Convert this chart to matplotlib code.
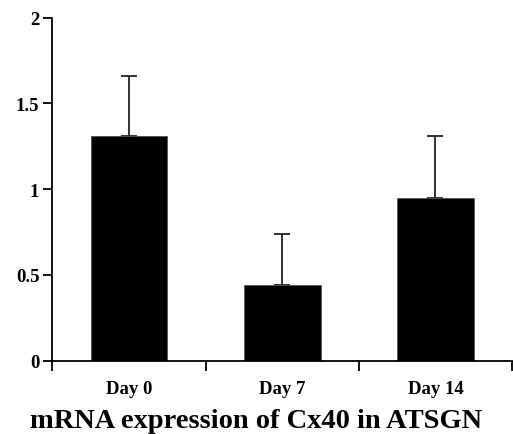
import matplotlib
matplotlib.use('Agg')
import matplotlib.pyplot as plt
import numpy as np

plt.rcParams['font.family'] = 'Liberation Serif'
plt.rcParams['font.weight'] = 'bold'

days = ['Day 0', 'Day 7', 'Day 14']
expression = [1.31, 0.44, 0.95]
sem = [0.35, 0.30, 0.36]
yticks = [0, 0.5, 1, 1.5, 2]
yticklabels = ['0', '0.5', '1', '1.5', '2']

fig = plt.figure(figsize=(5.13, 4.35), dpi=100)
ax = fig.add_axes([0.1023, 0.1685, 0.8957, 0.7885])

x = np.arange(len(days))
ax.bar(x, expression, width=0.5, color='black', edgecolor='#555555', linewidth=0.6,
       zorder=2)
ax.errorbar(x, expression, yerr=[np.zeros(len(sem)), sem], fmt='none',
            ecolor='#222222', elinewidth=1.3, capsize=6, capthick=1.3, zorder=1)

ax.set_xlim(-0.5, len(days) - 0.5)
ax.set_ylim(0, 2)

# tick marks on the category boundaries, labels in the middle
ax.set_xticks(np.arange(-0.5, len(days)), minor=True)
ax.tick_params(axis='x', which='minor', length=7, width=1.3, direction='out')
ax.set_xticks(x)
ax.set_xticklabels(days)
ax.tick_params(axis='x', which='major', length=0, pad=14, labelsize=13.5)

ax.set_yticks(yticks)
ax.set_yticklabels(yticklabels)
ax.tick_params(axis='y', length=6.5, width=1.3, direction='out', pad=3,
               labelsize=13.5)

for s in ['top', 'right']:
    ax.spines[s].set_visible(False)
for s in ['left', 'bottom']:
    ax.spines[s].set_linewidth(1.3)

# the caption is centred on the whole figure, not on the axes
fig.text(0.499, 0.016, 'mRNA expression of Cx40 in ATSGN', fontsize=20.5,
         fontweight='bold', ha='center', va='baseline')

fig.savefig('out.png', dpi=100)
